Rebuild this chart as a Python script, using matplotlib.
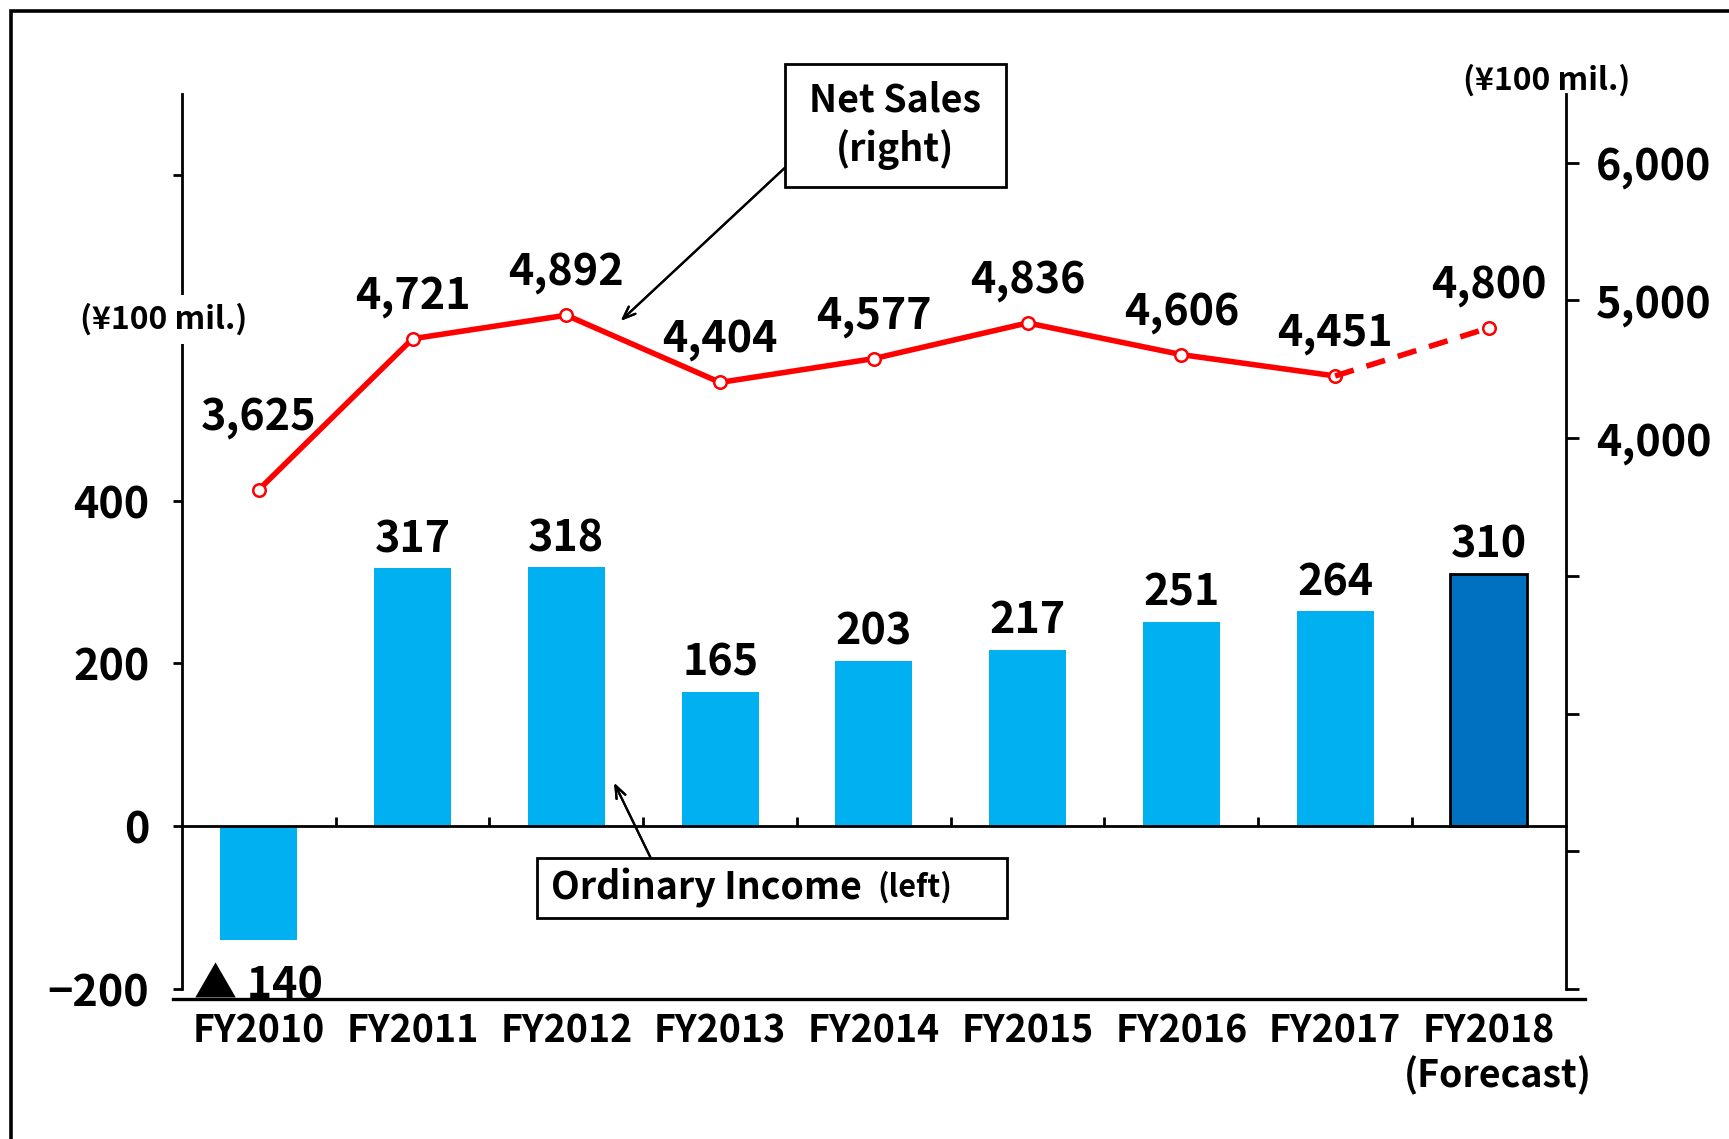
import matplotlib
matplotlib.use("Agg")
import matplotlib.pyplot as plt
from matplotlib.patches import Rectangle
from matplotlib.lines import Line2D
import matplotlib.transforms as mtransforms

plt.rcParams['font.family'] = ['Noto Sans CJK JP', 'DejaVu Sans']
plt.rcParams['font.weight'] = 'bold'

# data
years = ['FY2010', 'FY2011', 'FY2012', 'FY2013', 'FY2014',
         'FY2015', 'FY2016', 'FY2017', 'FY2018']
ordinary_income = [-140, 317, 318, 165, 203, 217, 251, 264, 310]
net_sales = [3625, 4721, 4892, 4404, 4577, 4836, 4606, 4451, 4800]
left_ticks = [-200, 0, 200, 400, 600, 800]
left_labels = ['\u2212200', '0', '200', '400', '', '']
right_ticks = [0, 1000, 2000, 3000, 4000, 5000, 6000]
right_labels = ['', '', '', '', '4,000', '5,000', '6,000']

light_blue = '#00B0F0'
dark_blue = '#0070C0'
red = '#FF0000'

fig = plt.figure(figsize=(17.29, 11.39), dpi=100)
ax = fig.add_axes([0.1052, 0.1317, 0.8004, 0.786])
ax2 = ax.twinx()

x = list(range(len(years)))

# bars (left axis)
colors = [light_blue] * (len(years) - 1) + [dark_blue]
bars = ax.bar(x, ordinary_income, width=0.5, color=colors, zorder=2)
bars[-1].set_edgecolor('black')
bars[-1].set_linewidth(2)

ax.set_xlim(-0.5, 8.5)
ax.set_ylim(-200, 900)
ax.set_yticks(left_ticks)
ax.set_yticklabels(left_labels)
ax.tick_params(axis='y', direction='out', length=6.5, width=2, pad=17, labelsize=31)
ax.set_xticks([i + 0.5 for i in x[:-1]])
ax.set_xticklabels([])
ax.tick_params(axis='x', direction='in', length=6.5, width=2)
ax.spines['bottom'].set_position(('data', 0))
ax.spines['bottom'].set_linewidth(2)
ax.spines['left'].set_linewidth(2)
ax.spines['top'].set_visible(False)
ax.spines['right'].set_visible(False)

for i, v in enumerate(ordinary_income):
    if v < 0:
        ax.text(i, -212, f'▲ {abs(v)}', ha='center', va='baseline', fontsize=31)
    else:
        ax.annotate(f'{v}', (i, v), xytext=(0, 21), textcoords='offset points',
                    ha='center', va='center', fontsize=31)

# category labels
trans = mtransforms.blended_transform_factory(ax.transData, ax.transAxes)
for i, name in enumerate(years):
    ax.text(i, -0.047, name, transform=trans, ha='center', va='center', fontsize=27)
ax.text(8.06, -0.097, '(Forecast)', transform=trans, ha='center', va='center', fontsize=27)

# net sales line (right axis)
ax2.plot(x[:-1], net_sales[:-1], color=red, lw=4, marker='o', markersize=9,
         markerfacecolor='white', markeredgecolor=red, markeredgewidth=1.8, zorder=3)
ax2.plot(x[-2:], net_sales[-2:], color=red, lw=4, dashes=(3.5, 2.4), marker='o',
         markersize=9, markerfacecolor='white', markeredgecolor=red,
         markeredgewidth=1.8, markevery=[1], zorder=3)
ax2.set_ylim(0, 6500)
ax2.set_yticks(right_ticks)
ax2.set_yticklabels(right_labels)
ax2.tick_params(axis='y', direction='out', length=9, width=2, pad=13, labelsize=31)
for s in ['left', 'top', 'bottom']:
    ax2.spines[s].set_visible(False)
ax2.spines['right'].set_linewidth(2)

for i, v in enumerate(net_sales):
    off = 52 if i == 0 else 31
    ax2.annotate(f'{v:,}', (i, v), xytext=(0, off), textcoords='offset points',
                 ha='center', va='center', fontsize=31)

# unit labels
fig.text(0.0944, 0.7193, '(¥100 mil.)', ha='center', va='center', fontsize=23,
         bbox=dict(facecolor='white', edgecolor='none', pad=6), zorder=5)
fig.text(0.8948, 0.9293, '(¥100 mil.)', ha='center', va='center', fontsize=23, zorder=5)

# callout boxes
fig.add_artist(Rectangle((0.4541, 0.8354), 0.1275, 0.1085, transform=fig.transFigure,
                         facecolor='white', edgecolor='black', lw=2, zorder=5))
fig.text(0.5179, 0.8896, 'Net Sales\n(right)', ha='center', va='center', fontsize=27,
         linespacing=1.3, zorder=6)
fig.add_artist(Rectangle((0.3106, 0.1936), 0.2717, 0.0533, transform=fig.transFigure,
                         facecolor='white', edgecolor='black', lw=2, zorder=5))
fig.text(0.4088, 0.2207, 'Ordinary Income', ha='center', va='center', fontsize=27, zorder=6)
fig.text(0.5293, 0.2207, '(left)', ha='center', va='center', fontsize=22, zorder=6)

arrow = dict(arrowstyle='->, head_length=0.9, head_width=0.35', color='black', lw=1.6,
             shrinkA=0, shrinkB=0)
fig.add_artist(plt.annotate('', xy=(0.359, 0.7183), xycoords='figure fraction',
                            xytext=(0.4541, 0.8529), textcoords='figure fraction',
                            arrowprops=arrow))
fig.add_artist(plt.annotate('', xy=(0.3552, 0.3127), xycoords='figure fraction',
                            xytext=(0.3763, 0.2469), textcoords='figure fraction',
                            arrowprops=arrow))

# bottom base line and outer frame
fig.add_artist(Line2D([0.1001, 0.9165], [0.1229, 0.1229], transform=fig.transFigure,
                      color='black', lw=2.4))
fig.add_artist(Rectangle((0.0064, -0.05), 1.1, 1.0403, transform=fig.transFigure,
                         facecolor='none', edgecolor='black', lw=2.6))

fig.savefig('out.png', dpi=100)
